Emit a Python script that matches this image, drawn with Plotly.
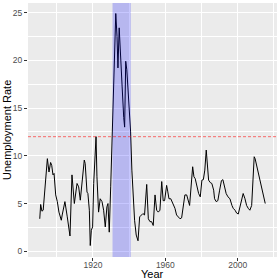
import plotly.graph_objects as go

# Data
years = [1890.6, 1891.1, 1891.8, 1892.5, 1894.8, 1895.7, 1896.6, 1897.2, 1897.9, 1898.5,
         1899.4, 1900.3, 1901.2, 1902.5, 1903.0, 1904.5, 1905.8, 1907.3, 1908.4, 1909.7,
         1911.2, 1912.1, 1913.0, 1914.3, 1915.2, 1915.7, 1916.7, 1917.2, 1918.0, 1918.5,
         1919.1, 1919.8, 1920.4, 1921.7, 1922.2, 1923.1, 1924.0, 1925.0, 1925.9, 1926.8,
         1927.7, 1928.3, 1929.0, 1929.8, 1932.6, 1933.3, 1933.8, 1934.5, 1935.3, 1936.1,
         1937.0, 1937.5, 1938.1, 1938.7, 1939.3, 1940.8, 1941.5, 1942.1, 1943.0, 1943.9,
         1944.9, 1945.8, 1946.7, 1947.6, 1948.5, 1949.7, 1950.6, 1951.5, 1952.4, 1953.3,
         1954.3, 1955.2, 1956.1, 1957.0, 1958.0, 1958.8, 1959.6, 1960.7, 1961.3, 1962.0,
         1963.0, 1963.8, 1965.3, 1966.2, 1967.2, 1968.1, 1969.0, 1970.0, 1970.8, 1971.8,
         1972.5, 1973.4, 1975.1, 1975.8, 1976.5, 1977.6, 1978.4, 1979.3, 1980.2, 1981.0,
         1981.8, 1982.6, 1983.2, 1983.9, 1984.8, 1985.7, 1986.7, 1987.2, 1988.1, 1989.0,
         1990.0, 1991.0, 1991.8, 1992.7, 1993.6, 1994.6, 1995.7, 1996.8, 1997.5, 1998.5,
         1999.4, 2000.3, 2001.3, 2002.2, 2003.0, 2004.0, 2004.9, 2005.8, 2006.7, 2007.7,
         2008.6, 2009.1, 2009.6, 2010.4, 2011.3, 2012.3, 2013.2, 2014.1, 2015.2]
unemployment = [3.4, 4.9, 4.2, 4.3, 9.7, 8.3, 9.3, 9.0, 8.0, 8.15,
                5.9, 5.2, 4.1, 3.25, 3.8, 5.2, 3.6, 1.6, 8.0, 5.0,
                7.1, 6.75, 5.35, 8.15, 9.55, 9.2, 6.2, 6.05, 4.3, 0.6,
                2.2, 2.55, 7.1, 12.0, 7.8, 4.1, 5.5, 5.2, 4.3, 2.55,
                4.65, 5.0, 2.0, 6.75, 24.9, 22.5, 19.2, 23.4, 19.4, 17.3,
                14.0, 13.0, 19.9, 19.0, 17.2, 12.5, 8.5, 5.7, 3.25, 1.7,
                1.1, 3.6, 3.8, 3.95, 3.8, 7.0, 3.4, 3.1, 3.1, 2.7,
                5.9, 4.3, 4.1, 4.3, 7.3, 5.3, 5.3, 6.9, 6.3, 5.5,
                5.5, 5.2, 4.5, 3.8, 3.6, 3.4, 3.5, 4.8, 5.9, 5.9,
                5.35, 4.8, 8.85, 7.8, 7.6, 6.6, 6.05, 5.7, 7.45, 7.5,
                8.5, 10.6, 9.0, 7.45, 7.2, 7.1, 6.4, 5.5, 5.2, 5.3,
                6.4, 7.4, 7.5, 6.8, 6.05, 5.7, 5.5, 4.8, 4.5, 4.3,
                4.0, 3.9, 4.8, 5.7, 6.05, 5.5, 4.8, 4.5, 4.3, 4.8,
                8.15, 9.9, 9.7, 9.0, 8.3, 7.6, 6.75, 5.9, 5.0]

shade_start = 1930.8
shade_end = 1940.9
threshold = 12
x_ticks = [1920, 1960, 2000]
y_ticks = [0, 5, 10, 15, 20, 25]

fig = go.Figure()
fig.add_trace(go.Scatter(x=years, y=unemployment, mode="lines",
                         line=dict(color="black", width=1), showlegend=False,
                         hoverinfo="skip"))

fig.add_vrect(x0=shade_start, x1=shade_end, fillcolor="blue", opacity=0.22,
              layer="above", line_width=0)
fig.add_hline(y=threshold, line=dict(color="rgba(255,0,0,0.55)", width=1, dash="3px,2px"),
              layer="above")

font = "Liberation Sans, Arial, sans-serif"
fig.update_layout(
    width=280, height=280,
    margin=dict(l=28, r=3, t=3, b=23),
    paper_bgcolor="white", plot_bgcolor="#EBEBEB",
    font=dict(family=font),
)
fig.update_xaxes(
    range=[1884.1, 2021.7], tickvals=x_ticks, ticktext=[str(v) for v in x_ticks],
    showgrid=True, gridcolor="white", gridwidth=1, zeroline=False,
    ticks="outside", ticklen=3, tickcolor="#333333", tickwidth=1,
    ticklabelstandoff=-3,
    tickfont=dict(size=8.5, color="#4D4D4D", family=font),
    minor=dict(tickvals=[1900, 1940, 1980, 2020], showgrid=True, gridcolor="white", gridwidth=0.5, ticks=""),
    automargin=False,
)
fig.update_yaxes(
    range=[-0.6, 26.0], tickvals=y_ticks, ticktext=[str(v) for v in y_ticks],
    showgrid=True, gridcolor="white", gridwidth=1, zeroline=False,
    ticks="outside", ticklen=3, tickcolor="#333333", tickwidth=1,
    tickfont=dict(size=8.5, color="#4D4D4D", family=font),
    minor=dict(tickvals=[2.5, 7.5, 12.5, 17.5, 22.5], showgrid=True, gridcolor="white", gridwidth=0.5, ticks=""),
    automargin=False,
)
# Axis titles
fig.add_annotation(text="Year", xref="paper", yref="paper", x=0.5, y=0,
                   xanchor="center", yanchor="middle", yshift=-17, showarrow=False,
                   font=dict(size=11, color="black", family=font))
fig.add_annotation(text="Unemployment Rate", xref="paper", yref="paper", x=0, y=0.5,
                   xanchor="center", yanchor="middle", xshift=-21, textangle=-90,
                   showarrow=False, font=dict(size=11, color="black", family=font))

fig.write_html("out.html", config={"displayModeBar": False},
               post_script="document.body.style.margin='0';document.body.style.overflow='hidden';")
